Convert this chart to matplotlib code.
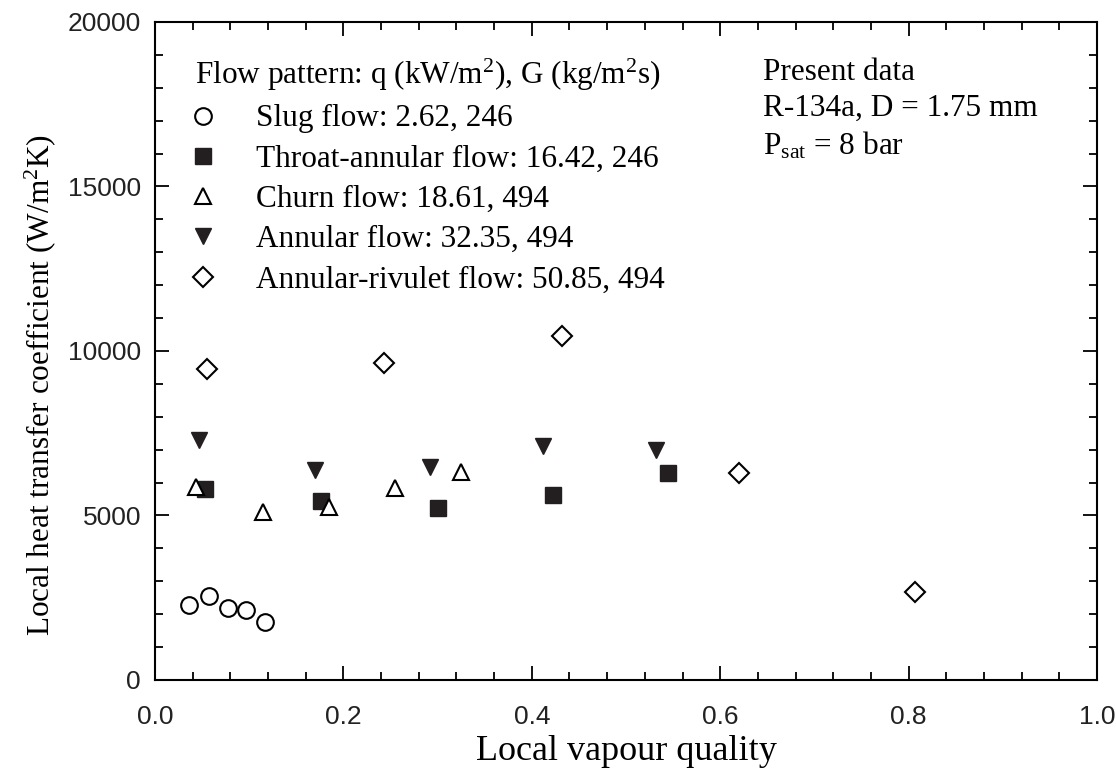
import matplotlib
matplotlib.use("Agg")
import matplotlib.pyplot as plt
from matplotlib.ticker import MultipleLocator

plt.rcParams['font.family'] = ['Liberation Serif', 'DejaVu Serif']
plt.rcParams['mathtext.fontset'] = 'custom'
plt.rcParams['mathtext.rm'] = 'Liberation Serif'
plt.rcParams['mathtext.it'] = 'Liberation Serif:italic'

# slug flow
slug_x = [0.036, 0.057, 0.077, 0.097, 0.117]
slug_y = [2280, 2550, 2190, 2130, 1770]
# throat-annular flow
throat_x = [0.053, 0.176, 0.300, 0.423, 0.545]
throat_y = [5800, 5450, 5220, 5620, 6280]
# churn flow
churn_x = [0.044, 0.115, 0.185, 0.255, 0.325]
churn_y = [5870, 5100, 5260, 5830, 6310]
# annular flow
annular_x = [0.047, 0.170, 0.292, 0.412, 0.532]
annular_y = [7300, 6370, 6480, 7120, 6990]
# annular-rivulet flow
rivulet_x = [0.055, 0.243, 0.432, 0.620, 0.807]
rivulet_y = [9450, 9640, 10460, 6280, 2680]

labels = ["Slug flow: 2.62, 246",
          "Throat-annular flow: 16.42, 246",
          "Churn flow: 18.61, 494",
          "Annular flow: 32.35, 494",
          "Annular-rivulet flow: 50.85, 494"]

fig = plt.figure(figsize=(11.16, 7.68), dpi=100)
ax = fig.add_axes([0.1389, 0.1146, 0.8441, 0.8568])

ms = 12
ax.plot(slug_x, slug_y, 'o', ms=ms, mfc='white', mec='black', mew=1.5, ls='none', label=labels[0])
ax.plot(throat_x, throat_y, 's', ms=ms - 1, mfc='#231f20', mec='#231f20', ls='none', label=labels[1])
ax.plot(churn_x, churn_y, '^', ms=ms, mfc='white', mec='black', mew=1.5, ls='none', label=labels[2])
ax.plot(annular_x, annular_y, 'v', ms=ms, mfc='#231f20', mec='#231f20', ls='none', label=labels[3])
ax.plot(rivulet_x, rivulet_y, 'D', ms=ms - 1.5, mfc='white', mec='black', mew=1.5, ls='none', label=labels[4])

ax.set_xlim(0, 1.0)
ax.set_ylim(0, 20000)
ax.xaxis.set_major_locator(MultipleLocator(0.2))
ax.xaxis.set_minor_locator(MultipleLocator(0.04))
ax.yaxis.set_major_locator(MultipleLocator(5000))
ax.yaxis.set_minor_locator(MultipleLocator(1000))
ax.set_xticklabels([f"{v:.1f}" for v in ax.get_xticks()])
ax.tick_params(which='both', direction='in', top=True, right=True, width=1.3)
ax.tick_params(which='major', length=10)
ax.tick_params(which='minor', length=6)
for lab in ax.get_xticklabels() + ax.get_yticklabels():
    lab.set_family(['Liberation Sans Narrow', 'Liberation Sans'])
    lab.set_fontsize(19)
    lab.set_color('#222222')
ax.tick_params(axis='x', pad=18)
ax.tick_params(axis='y', pad=10)
for s in ax.spines.values():
    s.set_linewidth(1.5)

ax.set_xlabel("Local vapour quality", fontsize=26)
ax.set_ylabel("Local heat transfer coefficient (W/m$^2$K)", fontsize=22.5)
ax.yaxis.set_label_coords(-0.103, 0.448)

leg = ax.legend(loc='upper left', bbox_to_anchor=(0.033, 0.961), frameon=False,
                title="Flow pattern: q (kW/m$^2$), G (kg/m$^2$s)",
                fontsize=22.5, title_fontsize=22.5, alignment='left',
                handlelength=0.45, handletextpad=1.5, labelspacing=0.36,
                borderpad=0.3, borderaxespad=0)

ax.text(0.6454, 0.945, "Present data\nR-134a, D = 1.75 mm\nP$_{\\mathrm{sat}}$ = 8 bar",
        transform=ax.transAxes, fontsize=22.5, va='top', ha='left', linespacing=1.3)

fig.savefig("out.png", dpi=100)
